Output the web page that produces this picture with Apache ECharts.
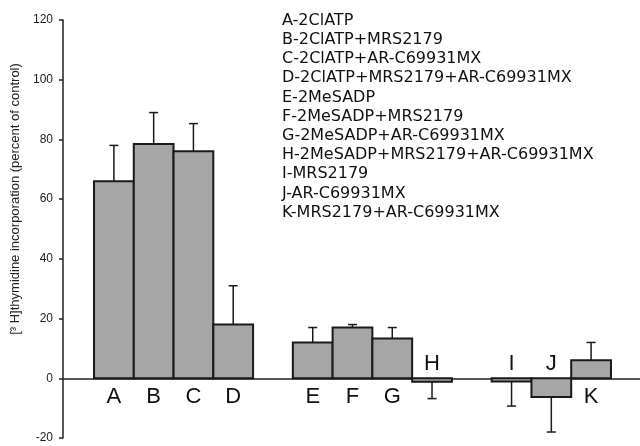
<!DOCTYPE html>
<html><head><meta charset="utf-8">
<script src="https://cdn.jsdelivr.net/npm/echarts@6/dist/echarts.min.js"></script>
<style>html,body{margin:0;padding:0;background:#fff}#c{width:640px;height:446px}</style>
</head><body><div id="c"></div>
<script>
const categories = ['A','B','C','D','','E','F','G','H','','I','J','K'];
const values =     [66, 78.5, 76, 18, null, 12, 17, 13.3, -1.2, null, -1.1, -6.3, 6];
const errors =     [12, 10.5, 9.3, 13, null, 5, 1, 3.7, 5.6, null, 8.2, 11.7, 6];
const yTicks = [-20, 0, 20, 40, 60, 80, 100, 120];
const legendLines = [
 'A-2ClATP','B-2ClATP+MRS2179','C-2ClATP+AR-C69931MX','D-2ClATP+MRS2179+AR-C69931MX',
 'E-2MeSADP','F-2MeSADP+MRS2179','G-2MeSADP+AR-C69931MX','H-2MeSADP+MRS2179+AR-C69931MX',
 'I-MRS2179','J-AR-C69931MX','K-MRS2179+AR-C69931MX'
];
const yTitle = '[\u00B3 H]thymidine incorporation (percent of control)';

const data = [];
categories.forEach((c,i)=>{ if(values[i]!==null) data.push([i, values[i], errors[i], c]); });

const font = '"Liberation Sans", Arial, sans-serif';
const chart = echarts.init(document.getElementById('c'));
chart.setOption({
  animation:false,
  title:{ text: legendLines.join('\n'), left:282, top:11, padding:0,
    textStyle:{ fontFamily:'"DejaVu Sans", sans-serif', fontSize:16, fontWeight:'normal', color:'#111', lineHeight:19.2 } },
  grid:{ left:63, right:0, top:20, bottom:8 },
  xAxis:{ type:'value', min:-1.28, max:13.23, axisLine:{ onZero:true, lineStyle:{color:'#222', width:1.5} },
    axisTick:{show:false}, axisLabel:{show:false}, splitLine:{show:false} },
  yAxis:{ type:'value', min:yTicks[0], max:yTicks[yTicks.length-1], interval:20,
    axisLine:{show:true, onZero:false, lineStyle:{color:'#222', width:1.5}},
    axisTick:{show:true, length:4, lineStyle:{color:'#222', width:1.5}},
    axisLabel:{ fontFamily:font, fontSize:12, color:'#222', margin:10 },
    splitLine:{show:false},
    name: yTitle, nameLocation:'middle', nameGap:21,
    nameTextStyle:{ fontFamily:font, fontSize:13, color:'#222', padding:[0,0,0,60] } },
  series:[{
    type:'custom', data:data, clip:false,
    renderItem:function(params, api){
      const i = api.value(0), v = api.value(1), e = api.value(2);
      const p0 = api.coord([i-0.5, 0]), p1 = api.coord([i+0.5, v]);
      const pc = api.coord([i, v]), pe = api.coord([i, v + (v>=0? e : -e)]);
      const p00 = api.coord([i, 0]);
      const lbl = data[params.dataIndex][3];
      const sty = {stroke:'#1a1a1a', lineWidth:1.5};
      return { type:'group', children:[
        { type:'line', shape:{x1:pc[0], y1:pc[1], x2:pe[0], y2:pe[1]}, style:sty },
        { type:'line', shape:{x1:pe[0]-4.5, y1:pe[1], x2:pe[0]+4.5, y2:pe[1]}, style:sty },
        { type:'rect', shape:{x:p0[0], y:Math.min(p0[1],p1[1]), width:p1[0]-p0[0], height:Math.abs(p1[1]-p0[1])},
          style:{fill:'#a6a6a6', stroke:'#1a1a1a', lineWidth:2} },
        { type:'text', style:{ text:lbl, x:p00[0], y: v>=0 ? p00[1]+19 : p00[1]-14,
          fontFamily:font, fontSize:22, fill:'#111', align:'center', verticalAlign:'middle' } }
      ]};
    }
  }]
});
</script></body></html>
